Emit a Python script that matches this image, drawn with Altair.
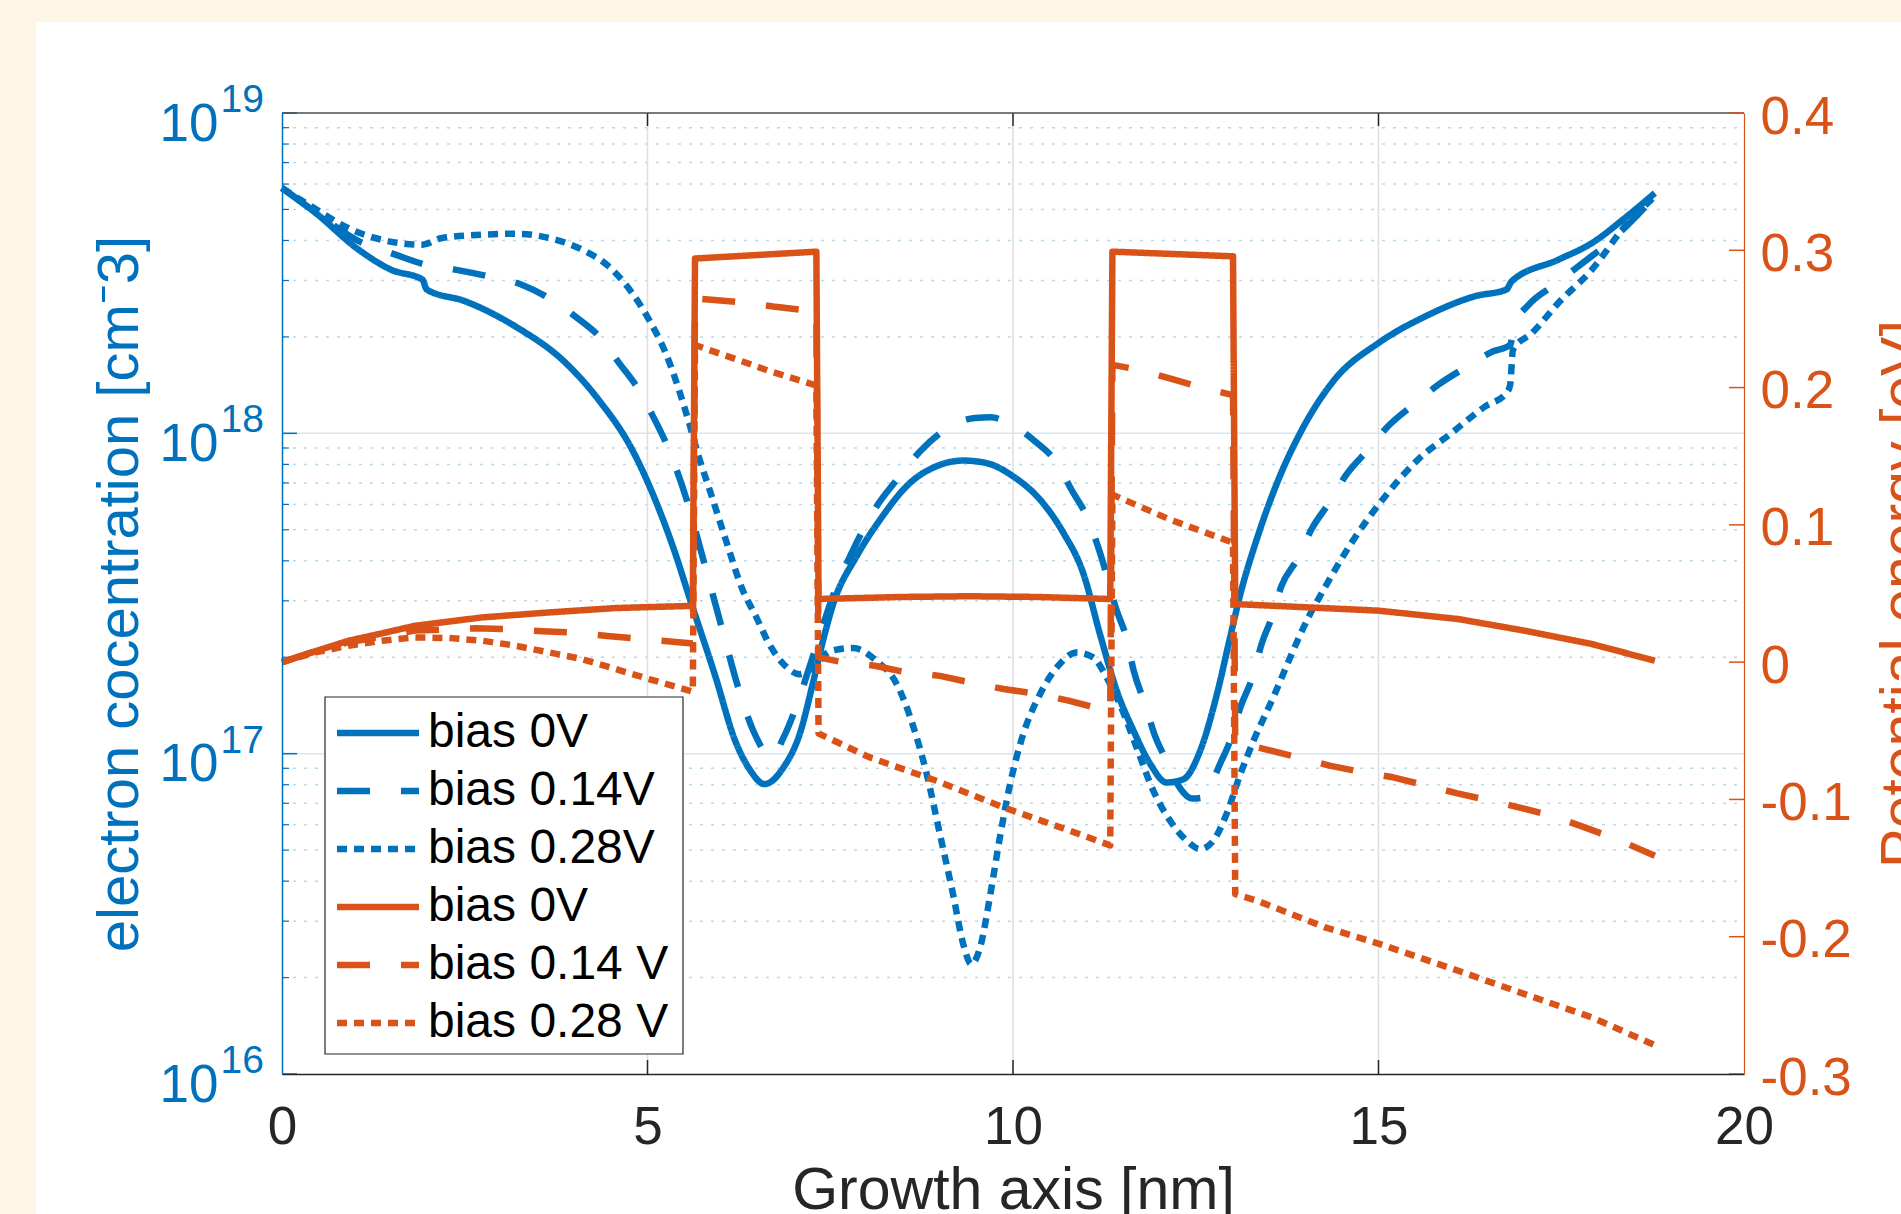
import altair as alt
import pandas as pd

# ---------------- data ----------------
# electron concentration, stored as log10(n / cm^-3)
X_N0 = [0, 0.46, 1.05, 1.5, 1.92, 1.98, 2.51, 3.19, 3.88, 4.33, 4.79, 5.11, 5.38, 5.57, 5.93, 6.2, 6.4, 6.6, 6.86, 7.08,
        7.27, 7.4, 7.54, 7.86, 8.18, 8.59, 8.95, 9.32, 9.64, 10.0, 10.37, 10.69, 10.96, 11.19, 11.42, 11.65, 11.88, 12.1, 12.33, 12.56,
        12.79, 12.97, 13.11, 13.35, 13.63, 13.95, 14.4, 15.0, 15.64, 16.32, 16.75, 16.82, 17.46, 17.92, 18.37, 18.78]
LOG_N0 = [18.766, 18.688, 18.573, 18.51, 18.48, 18.449, 18.412, 18.334, 18.22, 18.105, 17.949, 17.79, 17.625, 17.49, 17.24, 17.04, 16.95, 16.905, 16.957, 17.06,
          17.227, 17.352, 17.467, 17.616, 17.73, 17.845, 17.897, 17.915, 17.907, 17.866, 17.793, 17.689, 17.564, 17.373, 17.196, 17.071, 16.967, 16.91, 16.92, 17.009,
          17.186, 17.363, 17.498, 17.68, 17.855, 18.01, 18.168, 18.282, 18.365, 18.428, 18.449, 18.474, 18.542, 18.594, 18.672, 18.75]

X_N014 = [0, 0.46, 1.05, 1.55, 1.96, 2.37, 2.83, 3.28, 3.65, 4.01, 4.38, 4.61, 4.88, 5.06, 5.29, 5.54, 5.77, 6.02, 6.25, 6.45,
          6.7, 6.86, 7.04, 7.3, 7.55, 7.8, 8.1, 8.45, 8.73, 9.07, 9.48, 9.7, 9.94, 10.3, 10.6, 10.8, 11.03, 11.2, 11.42, 11.55,
          11.65, 11.83, 11.92, 12.1, 12.28, 12.45, 12.6, 12.83, 12.97, 13.11, 13.29, 13.4, 13.54, 13.67, 13.9, 14.08, 14.34, 14.56, 14.86, 15.13,
          15.48, 15.82, 16.18, 16.57, 16.8, 16.86, 17.05, 17.41, 17.73, 18.14, 18.45, 18.78]
LOG_N014 = [18.766, 18.69, 18.6, 18.558, 18.527, 18.511, 18.49, 18.464, 18.422, 18.365, 18.292, 18.22, 18.136, 18.06, 17.95, 17.79, 17.6, 17.39, 17.2, 17.07,
            16.99, 17.05, 17.15, 17.33, 17.5, 17.63, 17.76, 17.866, 17.944, 18.011, 18.048, 18.05, 18.032, 17.975, 17.907, 17.824, 17.73, 17.62, 17.446, 17.363,
            17.26, 17.14, 17.07, 16.978, 16.894, 16.86, 16.863, 16.967, 17.04, 17.144, 17.248, 17.342, 17.425, 17.522, 17.611, 17.699, 17.788, 17.871, 17.949, 18.022,
            18.09, 18.152, 18.204, 18.256, 18.275, 18.34, 18.40, 18.464, 18.521, 18.594, 18.66, 18.74]

X_N028 = [0, 0.46, 0.91, 1.37, 1.92, 2.19, 2.74, 3.19, 3.65, 4.11, 4.47, 4.79, 5.02, 5.25, 5.43, 5.57, 5.7, 5.88, 6.07, 6.3,
          6.48, 6.67, 6.86, 7.08, 7.27, 7.5, 7.81, 8.13, 8.41, 8.64, 8.82, 9.0, 9.18, 9.32, 9.43, 9.55, 9.69, 9.82, 9.96, 10.14,
          10.37, 10.64, 10.87, 11.1, 11.28, 11.46, 11.69, 11.92, 12.15, 12.38, 12.56, 12.74, 12.92, 13.11, 13.29, 13.58, 13.81, 14.04, 14.22, 14.63,
          15.09, 15.54, 16.0, 16.46, 16.75, 16.8, 16.84, 17.1, 17.46, 17.92, 18.37, 18.78]
LOG_N028 = [18.766, 18.7, 18.64, 18.604, 18.589, 18.61, 18.62, 18.623, 18.61, 18.573, 18.521, 18.438, 18.355, 18.25, 18.136, 18.032, 17.928, 17.803, 17.668, 17.512,
            17.43, 17.34, 17.28, 17.248, 17.27, 17.32, 17.33, 17.29, 17.217, 17.082, 16.936, 16.749, 16.561, 16.405, 16.343, 16.395, 16.561, 16.738, 16.905, 17.061,
            17.186, 17.28, 17.316, 17.3, 17.238, 17.155, 17.02, 16.884, 16.79, 16.728, 16.702, 16.728, 16.811, 16.936, 17.04, 17.186, 17.31, 17.425, 17.5, 17.658,
            17.803, 17.918, 18.001, 18.084, 18.126, 18.15, 18.261, 18.313, 18.407, 18.511, 18.646, 18.74]

# potential energy [eV]
X_P0 = [0, 0.46, 0.91, 1.37, 1.82, 2.74, 3.65, 4.56, 5.62, 5.65, 7.31, 7.34, 8.5, 9.4, 10.3, 11.33, 11.36, 13.01, 13.04, 14.0,
        15.0, 16.09, 17.0, 17.92, 18.78]
P0 = [0.0, 0.008, 0.0156, 0.021, 0.0265, 0.0326, 0.0362, 0.0394, 0.041, 0.294, 0.299, 0.046, 0.0475, 0.048, 0.0475, 0.046, 0.299, 0.2956, 0.0423, 0.040,
      0.0375, 0.0314, 0.0229, 0.0132, 0.001]

X_P014 = [0, 0.46, 0.91, 1.82, 2.65, 3.1, 3.56, 4.0, 4.45, 4.9, 5.62, 5.65, 6.3, 6.72, 7.31, 7.34, 7.66, 8.11, 8.54, 9.0,
          9.43, 9.87, 10.32, 10.76, 11.33, 11.36, 11.69, 12.12, 12.58, 13.01, 13.04, 13.44, 13.9, 14.33, 14.79, 15.2, 15.66, 16.08, 16.54, 16.96,
          17.41, 17.82, 18.26, 18.78]
P014 = [0.0, 0.008, 0.0145, 0.023, 0.0246, 0.024, 0.0225, 0.0215, 0.019, 0.017, 0.0135, 0.265, 0.262, 0.259, 0.2555, 0.0035, 0.0, -0.0026, -0.0075, -0.01,
        -0.015, -0.0196, -0.023, -0.028, -0.036, 0.2165, 0.2133, 0.207, 0.2, 0.1945, -0.058, -0.0633, -0.0694, -0.0754, -0.0803, -0.0839, -0.09, -0.0956, -0.101, -0.1063,
        -0.1126, -0.1204, -0.129, -0.141]

X_P028 = [0, 0.46, 0.91, 1.37, 1.82, 2.28, 2.74, 3.19, 3.65, 4.1, 4.56, 5.02, 5.62, 5.65, 6.3, 6.67, 7.31, 7.34, 8.04, 8.95,
          9.87, 10.78, 11.33, 11.36, 12.15, 13.01, 13.04, 13.35, 14.27, 15.0, 16.09, 17.0, 17.92, 18.78]
P028 = [0.0, 0.0071, 0.012, 0.0156, 0.018, 0.0176, 0.0156, 0.012, 0.0071, 0.0023, -0.005, -0.0123, -0.0215, 0.231, 0.219, 0.212, 0.2015, -0.052, -0.0694, -0.0864,
        -0.1058, -0.1228, -0.1335, 0.122, 0.1038, 0.087, -0.169, -0.174, -0.1932, -0.205, -0.2248, -0.2418, -0.2588, -0.279]

# legend labels (the trailing space keeps the two "bias 0V" entries distinct)
SERIES = ["bias 0V", "bias 0.14V", "bias 0.28V", "bias 0V ", "bias 0.14 V", "bias 0.28 V"]

# axis ticks / labels
X_TICKS = [0, 5, 10, 15, 20]
N_TICKS = [1e16, 1e17, 1e18, 1e19]
N_EXPONENTS = ["16", "17", "18", "19"]
N_MINOR = [m * 10.0 ** e for e in (16, 17, 18) for m in range(2, 10)]
E_TICKS = [-0.3, -0.2, -0.1, 0, 0.1, 0.2, 0.3, 0.4]

# ---------------- style ----------------
W, H = 1462, 961
BLUE = "#0072BD"
ORANGE = "#D95319"
DARK = "#262626"
FONT = "Liberation Sans, Arial, Helvetica, sans-serif"
DASHES = [[1, 0], [33, 31], [10, 7]]
LW = 6.5
LEG_X, LEG_Y, LEG_W, LEG_H = 43, 584, 358, 357


def frame(xs, ys, name, col):
    return pd.DataFrame({"x": xs, col: ys, "series": name, "i": list(range(len(xs)))})


blue_df = pd.concat([
    frame(X_N0, [10 ** v for v in LOG_N0], SERIES[0], "n"),
    frame(X_N014, [10 ** v for v in LOG_N014], SERIES[1], "n"),
    frame(X_N028, [10 ** v for v in LOG_N028], SERIES[2], "n"),
])
orange_df = pd.concat([
    frame(X_P0, P0, SERIES[3], "e"),
    frame(X_P014, P014, SERIES[4], "e"),
    frame(X_P028, P028, SERIES[5], "e"),
])

AXIS_X = alt.Axis(values=X_TICKS, format="d", labelFontSize=53, labelFont=FONT, labelColor=DARK,
                  labelPadding=27, labelFlush=False, labelOverlap=False, ticks=False, tickSize=0,
                  domainColor=DARK, domainWidth=1.5, grid=False,
                  title="Growth axis [nm]", titleFontSize=59, titleFont=FONT, titleColor=DARK,
                  titleFontWeight="normal", titleY=134, titleBaseline="alphabetic", zindex=1)
AXIS_L = alt.Axis(orient="left", values=N_TICKS, labelExpr="'10'", labelFontSize=53, labelFont=FONT,
                  labelColor=BLUE, labelPadding=64, labelOffset=11, labelBaseline="middle",
                  labelOverlap=False, labelFlush=False, ticks=False, tickSize=0,
                  domainColor=BLUE, domainWidth=1.5, grid=False,
                  title="electron cocentration [cm⁻3]", titleFontSize=58, titleFont=FONT, titleColor=BLUE,
                  titleFontWeight="normal", titleX=-145, titleY=H / 2, titleAngle=270,
                  titleBaseline="alphabetic", titleAlign="center", zindex=1)
AXIS_R = alt.Axis(orient="right", values=E_TICKS, labelExpr="'' + datum.value", labelFontSize=53, labelFont=FONT,
                  labelColor=ORANGE, labelPadding=16, labelOffset=4, labelBaseline="middle",
                  labelOverlap=False, labelFlush=False, ticks=False, tickSize=0,
                  domainColor=ORANGE, domainWidth=1.2, grid=False,
                  title="Potential energy [eV]", titleFontSize=59, titleFont=FONT, titleColor=ORANGE,
                  titleFontWeight="normal", titleX=177, titleY=H / 2, titleAngle=270,
                  titleBaseline="alphabetic", titleAlign="center", zindex=1)

XENC = alt.X("x:Q", scale=alt.Scale(domain=[0, 20], nice=False, zero=False), axis=AXIS_X)
YL = alt.Y("n:Q", scale=alt.Scale(type="log", domain=[1e16, 1e19], nice=False), axis=AXIS_L)
YR = alt.Y("e:Q", scale=alt.Scale(domain=[-0.3, 0.4], nice=False, zero=False), axis=AXIS_R)

# custom symbol: a horizontal segment 82 px long (path spans 4 units, scaled by sqrt(size)/2)
LEG = alt.Legend(orient="none", legendX=LEG_X, legendY=LEG_Y + 2, direction="vertical", symbolType="M-2,0H2",
                 symbolSize=1681, symbolStrokeWidth=LW, symbolOffset=19, labelFontSize=48, labelFont=FONT,
                 labelColor="#000000", labelOffset=26, labelLimit=0, padding=10, rowPadding=10)
COLOR = alt.Color("series:N", title=None, scale=alt.Scale(domain=SERIES, range=[BLUE] * 3 + [ORANGE] * 3), legend=LEG)
DASH = alt.StrokeDash("series:N", title=None, scale=alt.Scale(domain=SERIES, range=DASHES * 2), legend=LEG)

one = pd.DataFrame({"a": [0]})

panel = alt.Chart(one).mark_rect(color="white").encode(
    x=alt.value(-246), x2=alt.value(W + 160), y=alt.value(-91), y2=alt.value(H + 145))

minor_grid = alt.Chart(pd.DataFrame({"n": N_MINOR})).mark_rule(
    color="#BBD8EC", strokeWidth=1.5, strokeDash=[3, 8]).encode(y=YL, x=alt.value(0), x2=alt.value(W))
major_grid = alt.Chart(pd.DataFrame({"n": N_TICKS[1:3]})).mark_rule(
    color="#D6E7F4", strokeWidth=1.5).encode(y=YL, x=alt.value(0), x2=alt.value(W))
x_grid = alt.Chart(pd.DataFrame({"x": X_TICKS[1:4]})).mark_rule(
    color="#DEDEDE", strokeWidth=1.5).encode(x=XENC, y=alt.value(0), y2=alt.value(H))

blue_lines = alt.Chart(blue_df).mark_line(strokeWidth=LW, interpolate="monotone", strokeCap="butt",
                                          strokeJoin="round").encode(
    x=XENC, y=YL, color=COLOR, strokeDash=DASH, order=alt.Order("i:Q"))

left_major_ticks = alt.Chart(pd.DataFrame({"n": N_TICKS})).mark_rule(color=BLUE, strokeWidth=1.5).encode(
    y=YL, x=alt.value(0), x2=alt.value(15))
left_minor_ticks = alt.Chart(pd.DataFrame({"n": N_MINOR})).mark_rule(color=BLUE, strokeWidth=1.2).encode(
    y=YL, x=alt.value(0), x2=alt.value(7))
exps = alt.Chart(pd.DataFrame({"n": N_TICKS, "t": N_EXPONENTS})).mark_text(
    align="right", baseline="middle", dx=-18, dy=-13, fontSize=39, font=FONT, color=BLUE).encode(
    y=YL, x=alt.value(0), text="t:N")
top_ticks = alt.Chart(pd.DataFrame({"x": X_TICKS[1:4]})).mark_rule(color=DARK, strokeWidth=1.5).encode(
    x=XENC, y=alt.value(0), y2=alt.value(13))
bottom_ticks = alt.Chart(pd.DataFrame({"x": X_TICKS[1:4]})).mark_rule(color=DARK, strokeWidth=1.5).encode(
    x=XENC, y=alt.value(H - 14), y2=alt.value(H))
top_border = alt.Chart(one).mark_rule(color="#4D4D4D", strokeWidth=1.5).encode(
    x=alt.value(0), x2=alt.value(W), y=alt.value(0))

orange_lines = alt.Chart(orange_df).mark_line(strokeWidth=LW, strokeCap="butt", strokeJoin="round").encode(
    x=XENC, y=YR, color=COLOR, strokeDash=DASH, order=alt.Order("i:Q"))
right_ticks = alt.Chart(pd.DataFrame({"e": E_TICKS})).mark_rule(color=ORANGE, strokeWidth=1.5).encode(
    y=YR, x=alt.value(W - 15), x2=alt.value(W))
legend_frame = alt.Chart(one).mark_rect(fill="white", stroke=DARK, strokeWidth=1.2).encode(
    x=alt.value(LEG_X), x2=alt.value(LEG_X + LEG_W), y=alt.value(LEG_Y), y2=alt.value(LEG_Y + LEG_H))

left = alt.layer(panel, minor_grid, major_grid, x_grid, blue_lines, left_major_ticks, left_minor_ticks,
                 top_ticks, bottom_ticks, top_border, exps)
right = alt.layer(orange_lines, right_ticks, legend_frame)

chart = alt.layer(left, right).resolve_scale(y="independent").properties(
    width=W, height=H,
    background="#FDF6E7",
    padding={"left": 282, "top": 113, "right": 157, "bottom": 140},
    autosize=alt.AutoSizeParams(type="none"),
).configure_view(stroke=None)

chart.save("out.html", embed_options={"renderer": "svg", "actions": False})
